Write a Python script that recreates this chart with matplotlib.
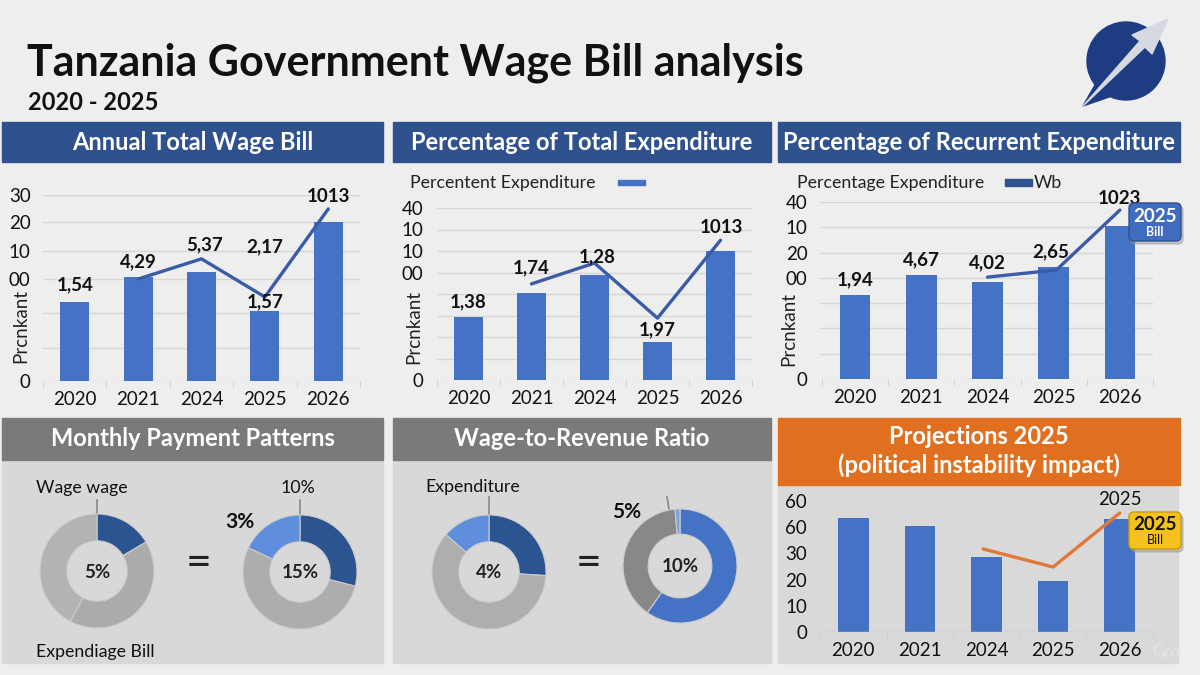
import matplotlib
matplotlib.use('Agg')
import matplotlib.pyplot as plt
from matplotlib.patches import Rectangle, FancyBboxPatch, Circle, Polygon

plt.rcParams['font.family'] = ['Lato', 'DejaVu Sans']

W, H = 1200, 675

years = ['2020', '2021', '2024', '2025', '2026']

# Annual Total Wage Bill (in grid units)
wage_bars = [2.55, 3.35, 3.52, 2.26, 5.13]
wage_line_x = [1, 2, 3, 4]
wage_line = [3.29, 3.94, 2.71, 5.55]
wage_ticks = [0, 1.06, 2.19, 3.29, 4.19, 5.13, 6.0]
wage_ticklabels = ['0', '', '', '00', '10', '20', '30']
wage_labels = ['1,54', '4,29', '5,37', '2,17', '1,57', '1013']
wage_lab_x = [0, 1, 2.05, 3, 3, 4]
wage_lab_y = [3.1, 3.84, 4.39, 4.32, 2.55, 5.94]

# Percentage of Total Expenditure
total_bars = [2.93, 4.05, 4.88, 1.77, 6.0]
total_line_x = [1, 2, 3, 4]
total_line = [4.47, 5.44, 2.88, 6.5]
total_ticks = [0, 1, 2, 3, 4, 5, 6, 7, 8]
total_ticklabels = ['0', '', '', '', '', '00', '10', '10', '40']
total_labels = ['1,38', '1,74', '1,28', '1,97', '1013']
total_lab_x = [0, 1, 2.05, 3, 4.02]
total_lab_y = [3.63, 5.2, 5.72, 2.33, 7.07]

# Percentage of Recurrent Expenditure
recur_bars = [3.32, 4.11, 3.83, 4.43, 6.05]
recur_line_x = [2, 3.04, 4]
recur_line = [4.03, 4.31, 6.68]
recur_ticks = [0, 1, 2, 3, 4, 5, 6, 7]
recur_ticklabels = ['0', '', '', '', '00', '20', '10', '40']
recur_labels = ['1,94', '4,67', '4,02', '2,65', '1023']
recur_lab_x = [0, 1, 2, 2.96, 4]
recur_lab_y = [3.91, 4.7, 4.58, 5.02, 7.15]

# Projections 2025
proj_bars = [4.35, 4.05, 2.86, 1.95, 4.31]
proj_line_x = [1.95, 3, 4]
proj_line = [3.17, 2.48, 4.54]
proj_ticks = [0, 1, 2, 3, 4, 5]
proj_ticklabels = ['0', '10', '20', '30', '60', '60']

# donuts
donut1 = [16.5, 41.2, 42.3]
donut2 = [29, 53, 18]
donut3 = [26, 60.4, 13.6]
donut4 = [59.7, 38.9, 1.4]

BAR = '#4472c4'
LINE = '#3a5ca8'
NAVY = '#2f528f'
DARKBLUE = '#2b5490'
LIGHTBLUE = '#5f8fdc'


def rect_px(x0, y0, x1, y1):
    return [x0 / W, 1 - y1 / H, (x1 - x0) / W, (y1 - y0) / H]


fig = plt.figure(figsize=(12, 6.75), dpi=100, facecolor='#eeeeee')

bg = fig.add_axes([0, 0, 1, 1], zorder=0)
bg.set_xlim(0, W)
bg.set_ylim(H, 0)
bg.axis('off')

top = fig.add_axes([0, 0, 1, 1], zorder=10)
top.set_xlim(0, W)
top.set_ylim(H, 0)
top.axis('off')
top.patch.set_alpha(0)

# title
bg.text(27, 63, 'Tanzania Government Wage Bill analysis', fontsize=31, fontweight='bold',
        va='center', ha='left', color='#111111')
bg.text(28, 103, '2020 - 2025', fontsize=17, fontweight='bold', va='center', ha='left',
        color='#111111')

# header bars
for x0, x1, t in [(2, 383, 'Annual Total Wage Bill'),
                  (393, 771, 'Percentage of Total Expenditure'),
                  (778, 1180, 'Percentage of Recurrent Expenditure')]:
    bg.add_patch(Rectangle((x0, 122), x1 - x0, 40, color=NAVY))
    bg.text((x0 + x1) / 2, 143, t, color='white', fontsize=17, fontweight='bold',
            ha='center', va='center')

for x0, x1, t in [(2, 383, 'Monthly Payment Patterns'), (393, 771, 'Wage-to-Revenue Ratio')]:
    bg.add_patch(Rectangle((x0, 460), x1 - x0, 203, color='#d8d8d8'))
    bg.add_patch(Rectangle((x0, 418), x1 - x0, 42, color='#7a7a7a'))
    bg.text((x0 + x1) / 2, 439, t, color='white', fontsize=17, fontweight='bold',
            ha='center', va='center')

bg.add_patch(Rectangle((778, 485), 400, 178, color='#d9d9d9'))
bg.add_patch(Rectangle((778, 418), 402, 67, color='#e0701f'))
bg.text(979, 437, 'Projections 2025', color='white', fontsize=17, fontweight='bold',
        ha='center', va='center')
bg.text(979, 465, '(political instability impact)', color='white', fontsize=17,
        fontweight='bold', ha='center', va='center')

# legends
bg.text(410, 183, 'Percentent Expenditure', fontsize=12.8, va='center', ha='left',
        color='#222222')
bg.add_patch(Rectangle((618, 180), 27, 5, color=BAR))
bg.text(797, 183, 'Percentage Expenditure', fontsize=12.8, va='center', ha='left',
        color='#222222')
bg.add_patch(Rectangle((1005, 179), 27, 7, color=NAVY))
bg.text(1034, 183, 'Wb', fontsize=12.8, va='center', ha='left', color='#222222')

# y labels
for x, y in [(21, 326), (414, 327), (789, 329)]:
    bg.text(x, y, 'Prcnkant', rotation=90, fontsize=13.5, ha='center', va='center',
            color='#222222')

# logo
bg.add_patch(Circle((1126, 61), 39, color='#1d3c82'))
bg.add_patch(Polygon([(1095, 85), (1083, 106), (1112, 96)], color='#1d3c82'))
bg.add_patch(Polygon([(1083, 106), (1145, 47), (1152, 54), (1168, 19), (1132, 35),
                      (1140, 41)], color='#d6d9e1'))

bg.text(1152, 652, 'Gro', fontsize=12, color='#e4e4e4', va='center', ha='left')


def bar_panel(rect, xlim, ylim, ticks, ticklabels, bars, lx, ly, lcolor, labels=None,
              lab_x=None, lab_y=None, width=0.46, grid='#d6d6d6', pad_y=9):
    ax = fig.add_axes(rect, zorder=2)
    ax.patch.set_alpha(0)
    x = list(range(len(years)))
    ax.bar(x, bars, width=width, color=BAR, zorder=2)
    ax.plot(lx, ly, color=lcolor, lw=2.4, zorder=3, solid_capstyle='round')
    ax.set_xlim(*xlim)
    ax.set_ylim(*ylim)
    ax.set_yticks(ticks)
    ax.set_yticklabels(ticklabels)
    ax.set_xticks(x)
    ax.set_xticklabels(years)
    ax.set_xticks([i - 0.5 for i in range(len(years) + 1)], minor=True)
    ax.tick_params(axis='both', which='major', length=0, labelsize=13.5, labelcolor='#111111')
    ax.tick_params(axis='y', pad=pad_y)
    ax.tick_params(axis='x', pad=7)
    ax.tick_params(axis='x', which='minor', length=4, color='#cccccc')
    ax.yaxis.grid(True, color=grid, lw=1)
    ax.set_axisbelow(True)
    for s in ax.spines.values():
        s.set_visible(False)
    if labels:
        for t, xx, yy in zip(labels, lab_x, lab_y):
            ax.text(xx, yy, t, ha='center', va='center', fontsize=13.5, fontweight='bold',
                    color='#111111', clip_on=False, zorder=4)
    return ax


bar_panel(rect_px(43, 195, 360, 381), (-0.48, 4.45), (0, 6.0), wage_ticks, wage_ticklabels,
          wage_bars, wage_line_x, wage_line, LINE, wage_labels, wage_lab_x, wage_lab_y)
bar_panel(rect_px(437, 208, 752, 380), (-0.49, 4.49), (0, 8), total_ticks, total_ticklabels,
          total_bars, total_line_x, total_line, LINE, total_labels, total_lab_x, total_lab_y,
          pad_y=10)
bar_panel(rect_px(820, 202, 1153, 379), (-0.53, 4.48), (0, 7), recur_ticks, recur_ticklabels,
          recur_bars, recur_line_x, recur_line, LINE, recur_labels, recur_lab_x, recur_lab_y)
ax6 = bar_panel(rect_px(818, 501, 1153, 632), (-0.53, 4.49), (0, 5), proj_ticks,
                proj_ticklabels, proj_bars, proj_line_x, proj_line, '#e2773a',
                grid='#cdcdcd', pad_y=8)
ax6.yaxis.grid(False)
ax6.axhline(0, color='#c4c4c4', lw=1)
ax6.text(4, 5.04, '2025', ha='center', va='center', fontsize=13.5, color='#111111',
         clip_on=False)

# callouts
top.add_patch(FancyBboxPatch((1131, 206), 52, 38, boxstyle='round,pad=0,rounding_size=5',
                             color='#999999', alpha=0.5))
top.add_patch(FancyBboxPatch((1129, 203), 52, 38, boxstyle='round,pad=0,rounding_size=5',
                             facecolor='#3f6cbf', edgecolor='#2f528f', lw=1))
top.text(1155, 216, '2025', color='white', fontsize=13.5, fontweight='bold', ha='center',
         va='center')
top.text(1155, 232, 'Bill', color='white', fontsize=9, fontweight='bold', ha='center',
         va='center')
top.add_patch(FancyBboxPatch((1131, 515), 52, 37, boxstyle='round,pad=0,rounding_size=5',
                             color='#999999', alpha=0.5))
top.add_patch(FancyBboxPatch((1129, 512), 52, 37, boxstyle='round,pad=0,rounding_size=5',
                             facecolor='#f5c21b', edgecolor='#c79a10', lw=1))
top.text(1155, 525, '2025', color='#111111', fontsize=13.5, fontweight='bold', ha='center',
         va='center')
top.text(1155, 540, 'Bill', color='#111111', fontsize=9, ha='center', va='center')


# donuts
def donut(cx, cy, vals, colors, hole_w=0.47, R=57):
    ax = fig.add_axes(rect_px(cx - R, cy - R, cx + R, cy + R), zorder=2)
    ax.pie(vals, colors=colors, startangle=90, counterclock=False, radius=1,
           wedgeprops={'width': hole_w, 'edgecolor': '#cbcbcb', 'linewidth': 0.8})
    ax.set_xlim(-1, 1)
    ax.set_ylim(-1, 1)
    ax.set_aspect('equal')
    ax.axis('off')
    return ax


donut(97, 571, donut1, [DARKBLUE, '#ababab', '#b3b3b3'])
donut(300, 572, donut2, [DARKBLUE, '#adadad', LIGHTBLUE])
donut(489, 572, donut3, [DARKBLUE, '#aeaeae', LIGHTBLUE])
donut(680, 566, donut4, [BAR, '#888888', '#79a3e6'], hole_w=0.44)

# donut texts
for x0, y0, x1, y1 in [(97, 500, 97, 514), (300, 500, 300, 514), (489, 497, 489, 515),
                       (667, 497, 669, 509)]:
    bg.plot([x0, x1], [y0, y1], color='#888888', lw=1.2)

bg.text(36, 488, 'Wage wage', fontsize=12.8, ha='left', va='center', color='#111111')
bg.text(298, 488, '10%', fontsize=12.8, ha='center', va='center', color='#111111')
bg.text(240, 522, '3%', fontsize=15, fontweight='bold', ha='center', va='center',
        color='#111111')
bg.text(36, 652, 'Expendiage Bill', fontsize=12.8, ha='left', va='center', color='#111111')
bg.text(425, 487, 'Expenditure', fontsize=12.8, ha='left', va='center', color='#111111')
bg.text(627, 512, '5%', fontsize=15, fontweight='bold', ha='center', va='center',
        color='#111111')
for x, y in [(199, 564), (589, 563)]:
    bg.text(x, y, '=', fontsize=32, ha='center', va='center', color='#222222')

top.text(97, 572, '5%', fontsize=13.5, fontweight='bold', ha='center', va='center',
         color='#222222')
top.text(300, 573, '15%', fontsize=13.5, fontweight='bold', ha='center', va='center',
         color='#222222')
top.text(489, 573, '4%', fontsize=13.5, fontweight='bold', ha='center', va='center',
         color='#222222')
top.text(680, 566, '10%', fontsize=13.5, fontweight='bold', ha='center', va='center',
         color='#222222')

fig.savefig('out.png', dpi=100, facecolor=fig.get_facecolor())
